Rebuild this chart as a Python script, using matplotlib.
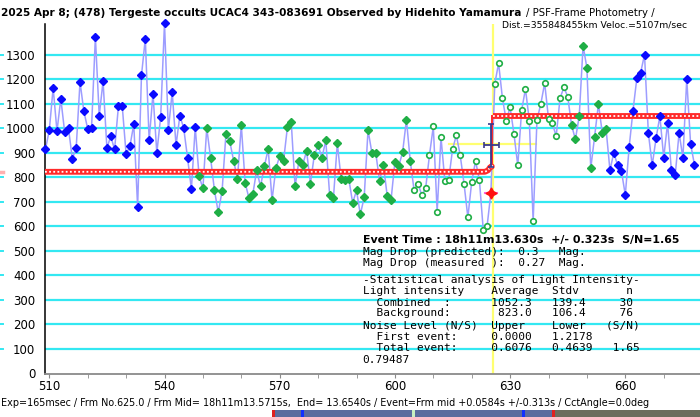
import numpy as np
import matplotlib
matplotlib.use("Agg")
import matplotlib.pyplot as plt
from matplotlib.patches import Rectangle
from matplotlib.transforms import blended_transform_factory

# ---- data (frame number, intensity) ----
first_frame = 509
flux = [914, 993, 1165, 989, 1121, 985, 1000, 876, 920, 1190,
        1070, 998, 1002, 1373, 1052, 1192, 920, 968, 914, 1090,
        1090, 895, 928, 1017, 680, 1216, 1366, 951, 1142, 900,
        1047, 1430, 994, 1148, 931, 1052, 1001, 880, 752, 1005,
        806, 755, 1001, 880, 748, 657, 745, 978, 947, 868,
        795, 1013, 778, 715, 732, 829, 763, 845, 916, 707,
        837, 887, 867, 1004, 1027, 763, 867, 852, 908, 775,
        890, 931, 880, 951, 729, 718, 939, 793, 790, 793,
        696, 747, 649, 719, 993, 901, 901, 787, 852, 724,
        709, 864, 847, 902, 1035, 867, 747, 775, 728, 755,
        891, 1008, 660, 964, 786, 790, 914, 972, 891, 775,
        637, 782, 867, 790, 587, 600, 738, 1181, 1266, 1123,
        1032, 1086, 978, 849, 1074, 1161, 1032, 622, 1036, 1100,
        1185, 1040, 1021, 968, 1123, 1167, 1130, 1014, 955, 1050,
        1337, 1247, 837, 966, 1100, 982, 996, 829, 901, 849,
        825, 728, 924, 1073, 1204, 1228, 1301, 982, 849, 959,
        1050, 880, 1021, 829, 810, 982, 880, 1201, 937, 852]
frames = np.arange(first_frame, first_frame + len(flux))

blue_ranges = [(509, 548), (656, 678)]     # outside the fit window
green_ranges = [(549, 604), (646, 655)]    # background / fit points
open_ranges = [(605, 645)]                 # event window

bg_level = 823.0
comb_level = 1052.3
event_frame = 625.45
event_pt = 625
event_err = 2.0          # frames (+/- 0.323 s)
yerr_center, yerr_half = 931, 87
half_span = (614, 636.7)

xlim = (508.88, 679.45)
ylim = (0, 1426)
yticks = list(range(0, 1400, 100))
xticks_major = list(range(510, 670, 30))
xticks_minor = list(range(520, 680, 10))

title_bold = "2025 Apr 8; (478) Tergeste occults UCAC4 343-083691 Observed by Hidehito Yamamura"
title_rest = "/ PSF-Frame Photometry /"
title_line2 = "Dist.=355848455km Veloc.=5107m/sec"
event_line = "Event Time : 18h11m13.630s  +/- 0.323s  S/N=1.65"
box_lines = [
    "Mag Drop (predicted):  0.3   Mag.",
    "Mag Drop (measured ):  0.27  Mag.",
    "-Statistical analysis of Light Intensity-",
    "Light intensity    Average  Stdv       n",
    "  Combined  :      1052.3   139.4     30",
    "  Background:       823.0   106.4     76",
    "Noise Level (N/S)  Upper    Lower   (S/N)",
    "  First event:     0.0000   1.2178",
    "  Total event:     0.6076   0.4639   1.65",
    "0.79487",
]
box_y = [251.7, 262.7, 280, 291.5, 302.5, 313.5, 326, 337, 348.3, 360]
footer = ("Exp=165msec / Frm No.625.0 / Frm Mid= 18h11m13.5715s,  End= 13.6540s / "
          "Event=Frm mid +0.0584s +/-0.313s / CctAngle=0.0deg")

W, H = 700, 417


def fx(x):
    return x / W


def fy(y):
    return 1 - y / H


def pick(ranges):
    m = np.zeros(len(frames), bool)
    for a, b in ranges:
        m |= (frames >= a) & (frames <= b)
    return m


fig = plt.figure(figsize=(7, 4.17), dpi=100)
fig.patch.set_facecolor("white")
ax = fig.add_axes([fx(45), fy(373.5), fx(700) - fx(45), fy(24) - fy(373.5)])
ax.set_xlim(*xlim)
ax.set_ylim(*ylim)

grid_c = "#33e8f2"
for v in yticks[1:]:
    ax.axhline(v, color=grid_c, lw=1.6, zorder=0)

# small bits of the grid / fit that peek out at the very left edge
edge = blended_transform_factory(fig.transFigure, ax.transData)
for v in yticks[1:]:
    ax.plot([0, fx(3)], [v, v], color=grid_c, lw=1.4, transform=edge, clip_on=False)
ax.plot([0, fx(3)], [bg_level, bg_level], color="#ffb0b0", lw=2.5, transform=edge, clip_on=False)

# event markers (yellow)
ax.axvline(event_frame, color="#ffff70", lw=1.6, zorder=1)
ax.plot(half_span, [(bg_level + comb_level) / 2] * 2, color="#ffff70", lw=1.6, zorder=1)

# light curve
ax.plot(frames, flux, color="#9d9dff", lw=1.1, zorder=2, clip_on=False)

# step fit
red = "#ff2a2a"
left_x = [xlim[0], event_frame - 2.0, event_frame - 1.2, event_frame - 0.5]
left_y = [bg_level, bg_level, bg_level + 6, bg_level + 22]
right_x = [event_frame + 0.2, xlim[1]]
right_y = [comb_level, comb_level]
for xs, ys in [(left_x, left_y), (right_x, right_y)]:
    ax.plot(xs, ys, color=red, lw=4.2, zorder=3, solid_capstyle="butt")
    ax.plot(xs, ys, color="white", lw=1.3, ls=(0, (1, 1.3)), zorder=3)
ax.plot([event_frame - 0.1] * 2, [bg_level + 22, comb_level], color=red, lw=1.4, zorder=3)
ax.plot([event_frame - 0.5], [bg_level + 22], "o", ms=3.5, mfc="white", mec=red, mew=1, zorder=3)

# data markers
m = pick(blue_ranges)
ax.plot(frames[m], np.array(flux)[m], "D", color="#0a0aff", ms=4.2, ls="none", zorder=4, clip_on=False)
m = pick(green_ranges)
ax.plot(frames[m], np.array(flux)[m], "D", color="#1fae45", ms=4.2, ls="none", zorder=4, clip_on=False)
m = pick(open_ranges) & (frames != event_pt)
ax.plot(frames[m], np.array(flux)[m], "o", mfc="white", mec="#1fae45", mew=1.2, ms=4.0, ls="none", zorder=4)

# event time error bars and event point
ax.errorbar(event_pt + 0.1, yerr_center, xerr=event_err, yerr=yerr_half, fmt="none",
            ecolor="#3a3a8c", elinewidth=1.3, capsize=2.5, capthick=1.2, zorder=5)
ev_val = flux[event_pt - first_frame]
ax.plot([event_pt - 1.6, event_pt + 1.6], [ev_val, ev_val], color="#ff66dd", lw=1.5, zorder=5)
ax.plot([event_pt], [ev_val], marker=(4, 1, 0), color="#ff1010", ms=8, zorder=6)

# axes cosmetics
for s in ["top", "right"]:
    ax.spines[s].set_visible(False)
ax.spines["left"].set_color("black")
ax.spines["left"].set_linewidth(1.1)
ax.spines["bottom"].set_color("#8a8a8a")
ax.spines["bottom"].set_linewidth(1.3)
ax.set_yticks(yticks)
ax.set_xticks(xticks_major)
ax.set_xticks(xticks_minor, minor=True)
tick_font = ["Liberation Sans Narrow", "DejaVu Sans"]
ax.tick_params(axis="y", length=0, pad=7, labelsize=8.5)
ax.tick_params(axis="x", which="both", length=3, color="#8a8a8a", direction="out", pad=2, labelsize=8.5)
for lab in ax.get_xticklabels() + ax.get_yticklabels():
    lab.set_family(tick_font)

# header
fig.text(fx(1), fy(13), title_bold, fontsize=7.6, fontweight="bold", va="center", ha="left")
fig.text(fx(526), fy(13), title_rest, fontsize=7.3, va="center", ha="left")
fig.text(fx(502), fy(25), title_line2, fontsize=6.7, va="center", ha="left")

# results box
fig.text(fx(362.7), fy(240), event_line, fontsize=7.9, fontweight="bold", va="center", ha="left")
for s, y in zip(box_lines, box_y):
    fig.text(fx(362.7), fy(y), s, fontsize=8.0, family="DejaVu Sans Mono", va="center", ha="left")

# footer
fig.text(fx(1), fy(403), footer, fontsize=6.95, family=tick_font, va="center", ha="left")

# bit of a map image that shows at the bottom right
strip_h = fy(410)
strip = [(272, 552, "#5b6c9e"), (552, 700, "#6b6d5e")]
for x0, x1, c in strip:
    fig.add_artist(Rectangle((fx(x0), 0), fx(x1) - fx(x0), strip_h, color=c, lw=0))
for x0, c in [(272, "#e02020"), (301, "#1030ff"), (412, "#c8f0c0"), (522, "#1030ff"), (552, "#e02020")]:
    fig.add_artist(Rectangle((fx(x0), 0), fx(3), strip_h, color=c, lw=0))

fig.savefig("out.png", dpi=100)
